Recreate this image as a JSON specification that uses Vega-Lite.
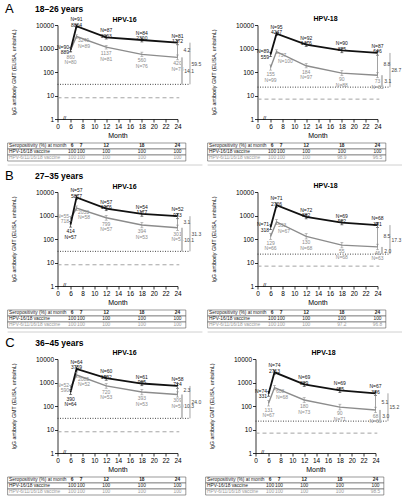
{
"$schema": "https://vega.github.io/schema/vega-lite/v6.json",
"padding": {"left": 4.5, "top": 2, "right": 0, "bottom": 0},
"spacing": 3,
"config": {
  "font": "Liberation Sans",
  "view": {"stroke": null},
  "axis": {"grid": false, "domainColor": "#000", "tickColor": "#000", "labelColor": "#000", "titleColor": "#000", "labelFontSize": 6.5, "titleFontSize": 7, "titleFontWeight": "normal", "tickSize": 3, "domainWidth": 0.8, "tickWidth": 0.8, "labelPadding": 1},
  "title": {"fontSize": 7, "fontWeight": "bold", "color": "#000"},
  "text": {"font": "Liberation Sans"}
},
"datasets": {
  "gmt": [
    {"p":"A16","v":"g","m":6,"g":860,"lo":690,"hi":1070,"n":80},
    {"p":"A16","v":"g","m":7,"g":3240,"lo":2730,"hi":3840,"n":89},
    {"p":"A16","v":"g","m":12,"g":1137,"lo":950,"hi":1360,"n":81},
    {"p":"A16","v":"g","m":18,"g":560,"lo":450,"hi":700,"n":76},
    {"p":"A16","v":"g","m":24,"g":420,"lo":330,"hi":530,"n":73},
    {"p":"A16","v":"c","m":6,"g":889,"lo":740,"hi":1070,"n":90},
    {"p":"A16","v":"c","m":7,"g":8864,"lo":7720,"hi":10180,"n":91},
    {"p":"A16","v":"c","m":12,"g":3003,"lo":2530,"hi":3560,"n":87},
    {"p":"A16","v":"c","m":18,"g":2300,"lo":1900,"hi":2780,"n":84},
    {"p":"A16","v":"c","m":24,"g":1772,"lo":1440,"hi":2180,"n":81},
    {"p":"A18","v":"g","m":6,"g":155,"lo":120,"hi":200,"n":99},
    {"p":"A18","v":"g","m":7,"g":737,"lo":620,"hi":880,"n":100},
    {"p":"A18","v":"g","m":12,"g":184,"lo":150,"hi":230,"n":97},
    {"p":"A18","v":"g","m":18,"g":90,"lo":70,"hi":115,"n":88},
    {"p":"A18","v":"g","m":24,"g":73,"lo":57,"hi":93,"n":85},
    {"p":"A18","v":"c","m":6,"g":559,"lo":450,"hi":690,"n":89},
    {"p":"A18","v":"c","m":7,"g":4247,"lo":3570,"hi":5050,"n":95},
    {"p":"A18","v":"c","m":12,"g":1476,"lo":1230,"hi":1770,"n":92},
    {"p":"A18","v":"c","m":18,"g":825,"lo":660,"hi":1030,"n":90},
    {"p":"A18","v":"c","m":24,"g":646,"lo":520,"hi":800,"n":87},
    {"p":"B16","v":"g","m":6,"g":718,"lo":560,"hi":920,"n":55},
    {"p":"B16","v":"g","m":7,"g":2053,"lo":1650,"hi":2560,"n":58},
    {"p":"B16","v":"g","m":12,"g":799,"lo":630,"hi":1010,"n":57},
    {"p":"B16","v":"g","m":18,"g":394,"lo":300,"hi":510,"n":53},
    {"p":"B16","v":"g","m":24,"g":301,"lo":230,"hi":390,"n":51},
    {"p":"B16","v":"c","m":6,"g":414,"lo":320,"hi":540,"n":57},
    {"p":"B16","v":"c","m":7,"g":5877,"lo":4800,"hi":7200,"n":57},
    {"p":"B16","v":"c","m":12,"g":1976,"lo":1600,"hi":2440,"n":57},
    {"p":"B16","v":"c","m":18,"g":1177,"lo":930,"hi":1490,"n":54},
    {"p":"B16","v":"c","m":24,"g":933,"lo":730,"hi":1190,"n":52},
    {"p":"B18","v":"g","m":6,"g":129,"lo":95,"hi":175,"n":66},
    {"p":"B18","v":"g","m":7,"g":533,"lo":420,"hi":680,"n":67},
    {"p":"B18","v":"g","m":12,"g":130,"lo":100,"hi":170,"n":68},
    {"p":"B18","v":"g","m":18,"g":55,"lo":42,"hi":72,"n":68},
    {"p":"B18","v":"g","m":24,"g":46,"lo":35,"hi":60,"n":63},
    {"p":"B18","v":"c","m":6,"g":318,"lo":250,"hi":400,"n":71},
    {"p":"B18","v":"c","m":7,"g":2726,"lo":2250,"hi":3300,"n":71},
    {"p":"B18","v":"c","m":12,"g":882,"lo":720,"hi":1080,"n":72},
    {"p":"B18","v":"c","m":18,"g":502,"lo":400,"hi":630,"n":69},
    {"p":"B18","v":"c","m":24,"g":391,"lo":310,"hi":490,"n":68},
    {"p":"C16","v":"g","m":6,"g":590,"lo":460,"hi":760,"n":52},
    {"p":"C16","v":"g","m":7,"g":2085,"lo":1680,"hi":2590,"n":52},
    {"p":"C16","v":"g","m":12,"g":720,"lo":570,"hi":910,"n":53},
    {"p":"C16","v":"g","m":18,"g":393,"lo":300,"hi":510,"n":53},
    {"p":"C16","v":"g","m":24,"g":309,"lo":240,"hi":400,"n":50},
    {"p":"C16","v":"c","m":6,"g":390,"lo":310,"hi":490,"n":64},
    {"p":"C16","v":"c","m":7,"g":3759,"lo":3100,"hi":4560,"n":64},
    {"p":"C16","v":"c","m":12,"g":1532,"lo":1250,"hi":1880,"n":60},
    {"p":"C16","v":"c","m":18,"g":905,"lo":730,"hi":1120,"n":61},
    {"p":"C16","v":"c","m":24,"g":714,"lo":570,"hi":890,"n":58},
    {"p":"C18","v":"g","m":6,"g":131,"lo":100,"hi":172,"n":67},
    {"p":"C18","v":"g","m":7,"g":608,"lo":490,"hi":755,"n":68},
    {"p":"C18","v":"g","m":12,"g":180,"lo":140,"hi":230,"n":73},
    {"p":"C18","v":"g","m":18,"g":90,"lo":68,"hi":119,"n":71},
    {"p":"C18","v":"g","m":24,"g":68,"lo":52,"hi":89,"n":66},
    {"p":"C18","v":"c","m":6,"g":331,"lo":260,"hi":420,"n":74},
    {"p":"C18","v":"c","m":7,"g":2713,"lo":2250,"hi":3270,"n":74},
    {"p":"C18","v":"c","m":12,"g":829,"lo":680,"hi":1010,"n":69},
    {"p":"C18","v":"c","m":18,"g":465,"lo":370,"hi":585,"n":69},
    {"p":"C18","v":"c","m":24,"g":346,"lo":275,"hi":435,"n":67}
  ],
  "cut": [
    {"p":"A16","k":"dot","y":29.8},{"p":"A16","k":"dash","y":8},
    {"p":"A18","k":"dot","y":22.7},{"p":"A18","k":"dash","y":7},
    {"p":"B16","k":"dot","y":29.8},{"p":"B16","k":"dash","y":8},
    {"p":"B18","k":"dot","y":22.7},{"p":"B18","k":"dash","y":7},
    {"p":"C16","k":"dot","y":29.8},{"p":"C16","k":"dash","y":8},
    {"p":"C18","k":"dot","y":22.7},{"p":"C18","k":"dash","y":7}
  ],
  "br": [
    {"p":"A16","k":"b1","top":1772,"bot":420,"t":"4.2"},
    {"p":"A16","k":"b2","top":420,"bot":29.8,"t":"14.1"},
    {"p":"A16","k":"b3","top":1772,"bot":29.8,"t":"59.5"},
    {"p":"A18","k":"b1","top":646,"bot":73,"t":"8.8"},
    {"p":"A18","k":"b2","top":73,"bot":22.7,"t":"3.1"},
    {"p":"A18","k":"b3","top":646,"bot":22.7,"t":"28.7"},
    {"p":"B16","k":"b1","top":933,"bot":301,"t":"3.1"},
    {"p":"B16","k":"b2","top":301,"bot":29.8,"t":"10.1"},
    {"p":"B16","k":"b3","top":933,"bot":29.8,"t":"31.3"},
    {"p":"B18","k":"b1","top":391,"bot":46,"t":"8.5"},
    {"p":"B18","k":"b2","top":46,"bot":22.7,"t":"2.0"},
    {"p":"B18","k":"b3","top":391,"bot":22.7,"t":"17.3"},
    {"p":"C16","k":"b1","top":714,"bot":309,"t":"2.3"},
    {"p":"C16","k":"b2","top":309,"bot":29.8,"t":"10.3"},
    {"p":"C16","k":"b3","top":714,"bot":29.8,"t":"24.0"},
    {"p":"C18","k":"b1","top":346,"bot":68,"t":"5.1"},
    {"p":"C18","k":"b2","top":68,"bot":22.7,"t":"3.0"},
    {"p":"C18","k":"b3","top":346,"bot":22.7,"t":"15.2"}
  ],
  "rows": [
    {"r":0,"lab":"Seropositivity (%) at month"},
    {"r":1,"lab":"HPV-16/18 vaccine"},
    {"r":2,"lab":"HPV-6/11/16/18 vaccine"}
  ],
  "hdr": [
    {"r":0,"m":6,"t":"6"},{"r":0,"m":7,"t":"7"},{"r":0,"m":12,"t":"12"},{"r":0,"m":18,"t":"18"},{"r":0,"m":24,"t":"24"}
  ],
  "sep": [{"s": 1}],
  "sero": [
    {"p":"A16","r":1,"m":6,"t":"100"},{"p":"A16","r":1,"m":7,"t":"100"},{"p":"A16","r":1,"m":12,"t":"100"},{"p":"A16","r":1,"m":18,"t":"100"},{"p":"A16","r":1,"m":24,"t":"100"},
    {"p":"A16","r":2,"m":6,"t":"100"},{"p":"A16","r":2,"m":7,"t":"100"},{"p":"A16","r":2,"m":12,"t":"100"},{"p":"A16","r":2,"m":18,"t":"100"},{"p":"A16","r":2,"m":24,"t":"100"},
    {"p":"A18","r":1,"m":6,"t":"100"},{"p":"A18","r":1,"m":7,"t":"100"},{"p":"A18","r":1,"m":12,"t":"100"},{"p":"A18","r":1,"m":18,"t":"100"},{"p":"A18","r":1,"m":24,"t":"100"},
    {"p":"A18","r":2,"m":6,"t":"100"},{"p":"A18","r":2,"m":7,"t":"100"},{"p":"A18","r":2,"m":12,"t":"100"},{"p":"A18","r":2,"m":18,"t":"98.9"},{"p":"A18","r":2,"m":24,"t":"96.5"},
    {"p":"B16","r":1,"m":6,"t":"100"},{"p":"B16","r":1,"m":7,"t":"100"},{"p":"B16","r":1,"m":12,"t":"100"},{"p":"B16","r":1,"m":18,"t":"100"},{"p":"B16","r":1,"m":24,"t":"100"},
    {"p":"B16","r":2,"m":6,"t":"100"},{"p":"B16","r":2,"m":7,"t":"100"},{"p":"B16","r":2,"m":12,"t":"100"},{"p":"B16","r":2,"m":18,"t":"100"},{"p":"B16","r":2,"m":24,"t":"100"},
    {"p":"B18","r":1,"m":6,"t":"100"},{"p":"B18","r":1,"m":7,"t":"100"},{"p":"B18","r":1,"m":12,"t":"100"},{"p":"B18","r":1,"m":18,"t":"100"},{"p":"B18","r":1,"m":24,"t":"100"},
    {"p":"B18","r":2,"m":6,"t":"100"},{"p":"B18","r":2,"m":7,"t":"100"},{"p":"B18","r":2,"m":12,"t":"100"},{"p":"B18","r":2,"m":18,"t":"97.2"},{"p":"B18","r":2,"m":24,"t":"96.8"},
    {"p":"C16","r":1,"m":6,"t":"100"},{"p":"C16","r":1,"m":7,"t":"100"},{"p":"C16","r":1,"m":12,"t":"100"},{"p":"C16","r":1,"m":18,"t":"100"},{"p":"C16","r":1,"m":24,"t":"100"},
    {"p":"C16","r":2,"m":6,"t":"100"},{"p":"C16","r":2,"m":7,"t":"100"},{"p":"C16","r":2,"m":12,"t":"100"},{"p":"C16","r":2,"m":18,"t":"100"},{"p":"C16","r":2,"m":24,"t":"100"},
    {"p":"C18","r":1,"m":6,"t":"100"},{"p":"C18","r":1,"m":7,"t":"100"},{"p":"C18","r":1,"m":12,"t":"100"},{"p":"C18","r":1,"m":18,"t":"100"},{"p":"C18","r":1,"m":24,"t":"100"},
    {"p":"C18","r":2,"m":6,"t":"100"},{"p":"C18","r":2,"m":7,"t":"100"},{"p":"C18","r":2,"m":12,"t":"100"},{"p":"C18","r":2,"m":18,"t":"100"},{"p":"C18","r":2,"m":24,"t":"98.5"}
  ]
},
"vconcat": [
{"title": {"text": "A", "anchor": "start", "frame": "bounds", "fontSize": 13, "fontWeight": "normal", "offset": -11, "dx": -2},
 "vconcat": [{
  "title": {"text": "18–26 years", "anchor": "start", "frame": "bounds", "fontSize": 8.5, "fontWeight": "bold", "dx": 28, "offset": 2},
  "spacing": 3,
  "hconcat": [
    {"spacing": 3, "vconcat": [
      {"width": 120, "height": 94, "title": {"text": "HPV-16", "frame": "group", "offset": -5.8, "dx": 7},
       "layer": [
        {"data": {"name": "cut"}, "transform": [{"filter": "datum.p == 'A16' && datum.k == 'dash'"}], "mark": {"type": "rule", "strokeDash": [4, 3], "color": "#9a9a9a", "strokeWidth": 0.9}, "encoding": {"x": {"datum": 3.8, "type": "quantitative"}, "x2": {"datum": 24.3}, "y": {"field": "y", "type": "quantitative", "scale": {"type": "log"}}}},
        {"data": {"name": "cut"}, "transform": [{"filter": "datum.p == 'A16' && datum.k == 'dot'"}], "mark": {"type": "rule", "strokeDash": [1, 1.5], "color": "#333", "strokeWidth": 0.9}, "encoding": {"x": {"datum": 3.8, "type": "quantitative"}, "x2": {"datum": 26.1}, "y": {"field": "y", "type": "quantitative", "scale": {"type": "log"}}}},
        {"data": {"name": "gmt"}, "transform": [{"filter": "datum.p == 'A16'"}, {"joinaggregate": [{"op": "max", "field": "g", "as": "mx"}], "groupby": ["m"]}, {"calculate": "'N=' + datum.n + '\\n' + datum.g", "as": "la"}, {"calculate": "datum.g + '\\nN=' + datum.n", "as": "lb"}],
         "layer": [
          {"transform": [{"filter": "datum.v == 'g'"}], "mark": {"type": "line", "strokeWidth": 1.4, "color": "#8c8c8c"},
           "encoding": {"x": {"field": "m", "type": "quantitative", "title": "Month", "scale": {"domain": [3.8, 24], "nice": false, "zero": false}, "axis": {"values": [3.8, 6, 8, 10, 12, 14, 16, 18, 20, 22, 24], "tickCount": 30, "format": "d", "labelExpr": "datum.value < 5 ? '0' : datum.label", "labelFlush": false, "labelOverlap": false, "titlePadding": 2, "labelColor": "#000", "titleColor": "#000"}},
                        "y": {"field": "g", "type": "quantitative", "title": "IgG antibody GMT (ELISA, units/mL)", "scale": {"type": "log", "domain": [1, 10000], "nice": false}, "axis": {"values": [1, 10, 100, 1000, 10000], "tickCount": 10, "format": "d", "labelFlush": false, "titlePadding": 19, "titleFontSize": 5.3, "labelColor": "#000", "titleColor": "#000"}}}},
          {"transform": [{"filter": "datum.v == 'c'"}], "mark": {"type": "line", "strokeWidth": 1.8, "color": "#111"}, "encoding": {"x": {"field": "m", "type": "quantitative"}, "y": {"field": "g", "type": "quantitative", "scale": {"type": "log"}}}},
          {"mark": {"type": "rule", "strokeWidth": 0.7}, "encoding": {"x": {"field": "m", "type": "quantitative"}, "y": {"field": "lo", "type": "quantitative", "scale": {"type": "log"}}, "y2": {"field": "hi"}, "color": {"field": "v", "type": "nominal", "scale": {"domain": ["c", "g"], "range": ["#111111", "#8c8c8c"]}, "legend": null}}},
          {"transform": [{"fold": ["lo", "hi"], "as": ["kk", "e"]}], "mark": {"type": "tick", "orient": "horizontal", "size": 3, "thickness": 0.7}, "encoding": {"x": {"field": "m", "type": "quantitative"}, "y": {"field": "e", "type": "quantitative", "scale": {"type": "log"}}, "color": {"field": "v", "type": "nominal", "scale": {"domain": ["c", "g"], "range": ["#111111", "#8c8c8c"]}, "legend": null}}},
          {"transform": [{"filter": "datum.v == 'c' && datum.m >= 7"}], "mark": {"type": "text", "fontSize": 5, "lineHeight": 5.5, "lineBreak": "\n", "baseline": "bottom", "dy": -4}, "encoding": {"x": {"field": "m", "type": "quantitative"}, "y": {"field": "g", "type": "quantitative", "scale": {"type": "log"}}, "text": {"field": "la"}, "color": {"field": "v", "type": "nominal", "scale": {"domain": ["c", "g"], "range": ["#111111", "#8c8c8c"]}, "legend": null}}},
          {"transform": [{"filter": "datum.v == 'g' && datum.m >= 12"}], "mark": {"type": "text", "fontSize": 5, "lineHeight": 5.5, "lineBreak": "\n", "baseline": "top", "dy": 4}, "encoding": {"x": {"field": "m", "type": "quantitative"}, "y": {"field": "g", "type": "quantitative", "scale": {"type": "log"}}, "text": {"field": "lb"}, "color": {"field": "v", "type": "nominal", "scale": {"domain": ["c", "g"], "range": ["#111111", "#8c8c8c"]}, "legend": null}}},
          {"transform": [{"filter": "datum.v == 'g' && datum.m == 7"}], "mark": {"type": "text", "fontSize": 5, "lineHeight": 5.5, "lineBreak": "\n", "baseline": "top", "align": "left", "dx": 1.5, "dy": 1.5}, "encoding": {"x": {"field": "m", "type": "quantitative"}, "y": {"field": "g", "type": "quantitative", "scale": {"type": "log"}}, "text": {"field": "lb"}, "color": {"field": "v", "type": "nominal", "scale": {"domain": ["c", "g"], "range": ["#111111", "#8c8c8c"]}, "legend": null}}},
          {"transform": [{"filter": "datum.m == 6 && datum.g == datum.mx"}], "mark": {"type": "text", "fontSize": 5, "lineHeight": 5.5, "lineBreak": "\n", "baseline": "bottom", "align": "right", "dx": -1.5}, "encoding": {"x": {"field": "m", "type": "quantitative"}, "y": {"field": "g", "type": "quantitative", "scale": {"type": "log"}}, "text": {"field": "la"}, "color": {"field": "v", "type": "nominal", "scale": {"domain": ["c", "g"], "range": ["#111111", "#8c8c8c"]}, "legend": null}}},
          {"transform": [{"filter": "datum.m == 6 && datum.g < datum.mx"}], "mark": {"type": "text", "fontSize": 5, "lineHeight": 5.5, "lineBreak": "\n", "baseline": "top", "dy": 4.5}, "encoding": {"x": {"field": "m", "type": "quantitative"}, "y": {"field": "g", "type": "quantitative", "scale": {"type": "log"}}, "text": {"field": "lb"}, "color": {"field": "v", "type": "nominal", "scale": {"domain": ["c", "g"], "range": ["#111111", "#8c8c8c"]}, "legend": null}}}
         ]},
        {"data": {"name": "br"}, "transform": [{"filter": "datum.p == 'A16'"}, {"calculate": "sqrt(datum.top * datum.bot)", "as": "ym"}],
         "layer": [
          {"transform": [{"filter": "datum.k == 'b1'"}], "mark": {"type": "rule", "color": "#8a8a8a", "strokeWidth": 0.8}, "encoding": {"x": {"datum": 24, "type": "quantitative"}, "y": {"field": "top", "type": "quantitative", "scale": {"type": "log"}}, "y2": {"field": "bot"}}},
          {"transform": [{"filter": "datum.k == 'b2'"}], "mark": {"type": "rule", "color": "#c0c0c0", "strokeWidth": 2}, "encoding": {"x": {"datum": 24.75, "type": "quantitative"}, "y": {"field": "top", "type": "quantitative", "scale": {"type": "log"}}, "y2": {"field": "bot"}}},
          {"transform": [{"filter": "datum.k == 'b3'"}], "mark": {"type": "rule", "color": "#666", "strokeWidth": 0.6}, "encoding": {"x": {"datum": 26.1, "type": "quantitative"}, "y": {"field": "top", "type": "quantitative", "scale": {"type": "log"}}, "y2": {"field": "bot"}}},
          {"transform": [{"filter": "datum.k == 'b1'"}], "mark": {"type": "text", "align": "left", "fontSize": 5, "color": "#444"}, "encoding": {"x": {"datum": 25.0, "type": "quantitative"}, "y": {"field": "ym", "type": "quantitative", "scale": {"type": "log"}}, "text": {"field": "t"}}},
          {"transform": [{"filter": "datum.k == 'b2'"}], "mark": {"type": "text", "align": "left", "fontSize": 5, "color": "#444"}, "encoding": {"x": {"datum": 25.15, "type": "quantitative"}, "y": {"field": "ym", "type": "quantitative", "scale": {"type": "log"}}, "text": {"field": "t"}}},
          {"transform": [{"filter": "datum.k == 'b3'"}], "mark": {"type": "text", "align": "left", "fontSize": 5, "color": "#444"}, "encoding": {"x": {"datum": 26.35, "type": "quantitative"}, "y": {"field": "ym", "type": "quantitative", "scale": {"type": "log"}}, "text": {"field": "t"}}}
         ]},
        {"data": {"values": [{"t": "//"}]}, "mark": {"type": "text", "fontSize": 6, "color": "#000"}, "encoding": {"x": {"datum": 5.0, "type": "quantitative"}, "y": {"datum": 1.1, "type": "quantitative"}, "text": {"field": "t"}}}
       ]},
      {"width": 120, "height": 18,
       "layer": [
        {"data": {"name": "rows"}, "mark": {"type": "rect", "fill": "#fff", "stroke": "#555", "strokeWidth": 0.6}, "encoding": {"x": {"datum": -4.6, "type": "quantitative", "scale": {"domain": [3.8, 24], "nice": false, "zero": false}, "axis": null}, "x2": {"datum": 25.4}, "y": {"field": "r", "type": "ordinal", "scale": {"type": "band", "domain": [0, 1, 2], "paddingInner": 0, "paddingOuter": 0}, "axis": null}}},
        {"data": {"name": "sep"}, "mark": {"type": "rule", "color": "#d0d0d0", "strokeWidth": 1, "yOffset": 4}, "encoding": {"x": {"datum": -4.6, "type": "quantitative"}, "x2": {"datum": 28.2}, "y": {"datum": 2, "type": "ordinal", "bandPosition": 1}}},
        {"data": {"name": "rows"}, "mark": {"type": "text", "align": "left", "fontSize": 4.8, "dx": 1.5}, "encoding": {"x": {"datum": -4.6, "type": "quantitative"}, "y": {"field": "r", "type": "ordinal"}, "text": {"field": "lab"}, "color": {"condition": {"test": "datum.r == 2", "value": "#9a9a9a"}, "value": "#222"}}},
        {"data": {"name": "hdr"}, "transform": [{"filter": "datum.m == 6"}], "mark": {"type": "text", "fontSize": 4.8, "fontWeight": "bold", "dx": 1.5, "color": "#222"}, "encoding": {"x": {"field": "m", "type": "quantitative"}, "y": {"field": "r", "type": "ordinal"}, "text": {"field": "t"}}},
        {"data": {"name": "hdr"}, "transform": [{"filter": "datum.m == 7"}], "mark": {"type": "text", "fontSize": 4.8, "fontWeight": "bold", "dx": 4.5, "color": "#222"}, "encoding": {"x": {"field": "m", "type": "quantitative"}, "y": {"field": "r", "type": "ordinal"}, "text": {"field": "t"}}},
        {"data": {"name": "hdr"}, "transform": [{"filter": "datum.m >= 12"}], "mark": {"type": "text", "fontSize": 4.8, "fontWeight": "bold", "color": "#222"}, "encoding": {"x": {"field": "m", "type": "quantitative"}, "y": {"field": "r", "type": "ordinal"}, "text": {"field": "t"}}},
        {"data": {"name": "sero"}, "transform": [{"filter": "datum.p == 'A16' && datum.m == 6"}], "mark": {"type": "text", "fontSize": 4.8, "dx": 1.5}, "encoding": {"x": {"field": "m", "type": "quantitative"}, "y": {"field": "r", "type": "ordinal"}, "text": {"field": "t"}, "color": {"condition": {"test": "datum.r == 2", "value": "#9a9a9a"}, "value": "#222"}}},
        {"data": {"name": "sero"}, "transform": [{"filter": "datum.p == 'A16' && datum.m == 7"}], "mark": {"type": "text", "fontSize": 4.8, "dx": 4.5}, "encoding": {"x": {"field": "m", "type": "quantitative"}, "y": {"field": "r", "type": "ordinal"}, "text": {"field": "t"}, "color": {"condition": {"test": "datum.r == 2", "value": "#9a9a9a"}, "value": "#222"}}},
        {"data": {"name": "sero"}, "transform": [{"filter": "datum.p == 'A16' && datum.m >= 12"}], "mark": {"type": "text", "fontSize": 4.8}, "encoding": {"x": {"field": "m", "type": "quantitative"}, "y": {"field": "r", "type": "ordinal"}, "text": {"field": "t"}, "color": {"condition": {"test": "datum.r == 2", "value": "#9a9a9a"}, "value": "#222"}}}
       ]}
    ]},
    {"spacing": 3, "vconcat": [
      {"width": 120, "height": 94, "title": {"text": "HPV-18", "frame": "group", "offset": 0, "dx": 8},
       "layer": [
        {"data": {"name": "cut"}, "transform": [{"filter": "datum.p == 'A18' && datum.k == 'dash'"}], "mark": {"type": "rule", "strokeDash": [4, 3], "color": "#9a9a9a", "strokeWidth": 0.9}, "encoding": {"x": {"datum": 3.8, "type": "quantitative"}, "x2": {"datum": 24.3}, "y": {"field": "y", "type": "quantitative", "scale": {"type": "log"}}}},
        {"data": {"name": "cut"}, "transform": [{"filter": "datum.p == 'A18' && datum.k == 'dot'"}], "mark": {"type": "rule", "strokeDash": [1, 1.5], "color": "#333", "strokeWidth": 0.9}, "encoding": {"x": {"datum": 3.8, "type": "quantitative"}, "x2": {"datum": 26.1}, "y": {"field": "y", "type": "quantitative", "scale": {"type": "log"}}}},
        {"data": {"name": "gmt"}, "transform": [{"filter": "datum.p == 'A18'"}, {"joinaggregate": [{"op": "max", "field": "g", "as": "mx"}], "groupby": ["m"]}, {"calculate": "'N=' + datum.n + '\\n' + datum.g", "as": "la"}, {"calculate": "datum.g + '\\nN=' + datum.n", "as": "lb"}],
         "layer": [
          {"transform": [{"filter": "datum.v == 'g'"}], "mark": {"type": "line", "strokeWidth": 1.4, "color": "#8c8c8c"},
           "encoding": {"x": {"field": "m", "type": "quantitative", "title": "Month", "scale": {"domain": [3.8, 24], "nice": false, "zero": false}, "axis": {"values": [3.8, 6, 8, 10, 12, 14, 16, 18, 20, 22, 24], "tickCount": 30, "format": "d", "labelExpr": "datum.value < 5 ? '0' : datum.label", "labelFlush": false, "labelOverlap": false, "titlePadding": 2, "labelColor": "#000", "titleColor": "#000"}},
                        "y": {"field": "g", "type": "quantitative", "title": "IgG antibody GMT (ELISA, units/mL)", "scale": {"type": "log", "domain": [1, 10000], "nice": false}, "axis": {"values": [1, 10, 100, 1000, 10000], "tickCount": 10, "format": "d", "labelFlush": false, "titlePadding": 19, "titleFontSize": 5.3, "labelColor": "#000", "titleColor": "#000"}}}},
          {"transform": [{"filter": "datum.v == 'c'"}], "mark": {"type": "line", "strokeWidth": 1.8, "color": "#111"}, "encoding": {"x": {"field": "m", "type": "quantitative"}, "y": {"field": "g", "type": "quantitative", "scale": {"type": "log"}}}},
          {"mark": {"type": "rule", "strokeWidth": 0.7}, "encoding": {"x": {"field": "m", "type": "quantitative"}, "y": {"field": "lo", "type": "quantitative", "scale": {"type": "log"}}, "y2": {"field": "hi"}, "color": {"field": "v", "type": "nominal", "scale": {"domain": ["c", "g"], "range": ["#111111", "#8c8c8c"]}, "legend": null}}},
          {"transform": [{"fold": ["lo", "hi"], "as": ["kk", "e"]}], "mark": {"type": "tick", "orient": "horizontal", "size": 3, "thickness": 0.7}, "encoding": {"x": {"field": "m", "type": "quantitative"}, "y": {"field": "e", "type": "quantitative", "scale": {"type": "log"}}, "color": {"field": "v", "type": "nominal", "scale": {"domain": ["c", "g"], "range": ["#111111", "#8c8c8c"]}, "legend": null}}},
          {"transform": [{"filter": "datum.v == 'c' && datum.m >= 7"}], "mark": {"type": "text", "fontSize": 5, "lineHeight": 5.5, "lineBreak": "\n", "baseline": "bottom", "dy": -4}, "encoding": {"x": {"field": "m", "type": "quantitative"}, "y": {"field": "g", "type": "quantitative", "scale": {"type": "log"}}, "text": {"field": "la"}, "color": {"field": "v", "type": "nominal", "scale": {"domain": ["c", "g"], "range": ["#111111", "#8c8c8c"]}, "legend": null}}},
          {"transform": [{"filter": "datum.v == 'g' && datum.m >= 12"}], "mark": {"type": "text", "fontSize": 5, "lineHeight": 5.5, "lineBreak": "\n", "baseline": "top", "dy": 4}, "encoding": {"x": {"field": "m", "type": "quantitative"}, "y": {"field": "g", "type": "quantitative", "scale": {"type": "log"}}, "text": {"field": "lb"}, "color": {"field": "v", "type": "nominal", "scale": {"domain": ["c", "g"], "range": ["#111111", "#8c8c8c"]}, "legend": null}}},
          {"transform": [{"filter": "datum.v == 'g' && datum.m == 7"}], "mark": {"type": "text", "fontSize": 5, "lineHeight": 5.5, "lineBreak": "\n", "baseline": "top", "align": "left", "dx": 1.5, "dy": 1.5}, "encoding": {"x": {"field": "m", "type": "quantitative"}, "y": {"field": "g", "type": "quantitative", "scale": {"type": "log"}}, "text": {"field": "lb"}, "color": {"field": "v", "type": "nominal", "scale": {"domain": ["c", "g"], "range": ["#111111", "#8c8c8c"]}, "legend": null}}},
          {"transform": [{"filter": "datum.m == 6 && datum.g == datum.mx"}], "mark": {"type": "text", "fontSize": 5, "lineHeight": 5.5, "lineBreak": "\n", "baseline": "bottom", "align": "right", "dx": -1.5}, "encoding": {"x": {"field": "m", "type": "quantitative"}, "y": {"field": "g", "type": "quantitative", "scale": {"type": "log"}}, "text": {"field": "la"}, "color": {"field": "v", "type": "nominal", "scale": {"domain": ["c", "g"], "range": ["#111111", "#8c8c8c"]}, "legend": null}}},
          {"transform": [{"filter": "datum.m == 6 && datum.g < datum.mx"}], "mark": {"type": "text", "fontSize": 5, "lineHeight": 5.5, "lineBreak": "\n", "baseline": "top", "dy": 4.5}, "encoding": {"x": {"field": "m", "type": "quantitative"}, "y": {"field": "g", "type": "quantitative", "scale": {"type": "log"}}, "text": {"field": "lb"}, "color": {"field": "v", "type": "nominal", "scale": {"domain": ["c", "g"], "range": ["#111111", "#8c8c8c"]}, "legend": null}}}
         ]},
        {"data": {"name": "br"}, "transform": [{"filter": "datum.p == 'A18'"}, {"calculate": "sqrt(datum.top * datum.bot)", "as": "ym"}],
         "layer": [
          {"transform": [{"filter": "datum.k == 'b1'"}], "mark": {"type": "rule", "color": "#8a8a8a", "strokeWidth": 0.8}, "encoding": {"x": {"datum": 24, "type": "quantitative"}, "y": {"field": "top", "type": "quantitative", "scale": {"type": "log"}}, "y2": {"field": "bot"}}},
          {"transform": [{"filter": "datum.k == 'b2'"}], "mark": {"type": "rule", "color": "#c0c0c0", "strokeWidth": 2}, "encoding": {"x": {"datum": 24.75, "type": "quantitative"}, "y": {"field": "top", "type": "quantitative", "scale": {"type": "log"}}, "y2": {"field": "bot"}}},
          {"transform": [{"filter": "datum.k == 'b3'"}], "mark": {"type": "rule", "color": "#666", "strokeWidth": 0.6}, "encoding": {"x": {"datum": 26.1, "type": "quantitative"}, "y": {"field": "top", "type": "quantitative", "scale": {"type": "log"}}, "y2": {"field": "bot"}}},
          {"transform": [{"filter": "datum.k == 'b1'"}], "mark": {"type": "text", "align": "left", "fontSize": 5, "color": "#444"}, "encoding": {"x": {"datum": 25.0, "type": "quantitative"}, "y": {"field": "ym", "type": "quantitative", "scale": {"type": "log"}}, "text": {"field": "t"}}},
          {"transform": [{"filter": "datum.k == 'b2'"}], "mark": {"type": "text", "align": "left", "fontSize": 5, "color": "#444"}, "encoding": {"x": {"datum": 25.15, "type": "quantitative"}, "y": {"field": "ym", "type": "quantitative", "scale": {"type": "log"}}, "text": {"field": "t"}}},
          {"transform": [{"filter": "datum.k == 'b3'"}], "mark": {"type": "text", "align": "left", "fontSize": 5, "color": "#444"}, "encoding": {"x": {"datum": 26.35, "type": "quantitative"}, "y": {"field": "ym", "type": "quantitative", "scale": {"type": "log"}}, "text": {"field": "t"}}}
         ]},
        {"data": {"values": [{"t": "//"}]}, "mark": {"type": "text", "fontSize": 6, "color": "#000"}, "encoding": {"x": {"datum": 5.0, "type": "quantitative"}, "y": {"datum": 1.1, "type": "quantitative"}, "text": {"field": "t"}}}
       ]},
      {"width": 120, "height": 18,
       "layer": [
        {"data": {"name": "rows"}, "mark": {"type": "rect", "fill": "#fff", "stroke": "#555", "strokeWidth": 0.6}, "encoding": {"x": {"datum": -4.6, "type": "quantitative", "scale": {"domain": [3.8, 24], "nice": false, "zero": false}, "axis": null}, "x2": {"datum": 25.4}, "y": {"field": "r", "type": "ordinal", "scale": {"type": "band", "domain": [0, 1, 2], "paddingInner": 0, "paddingOuter": 0}, "axis": null}}},
        {"data": {"name": "sep"}, "mark": {"type": "rule", "color": "#d0d0d0", "strokeWidth": 1, "yOffset": 4}, "encoding": {"x": {"datum": -4.6, "type": "quantitative"}, "x2": {"datum": 28.2}, "y": {"datum": 2, "type": "ordinal", "bandPosition": 1}}},
        {"data": {"name": "rows"}, "mark": {"type": "text", "align": "left", "fontSize": 4.8, "dx": 1.5}, "encoding": {"x": {"datum": -4.6, "type": "quantitative"}, "y": {"field": "r", "type": "ordinal"}, "text": {"field": "lab"}, "color": {"condition": {"test": "datum.r == 2", "value": "#9a9a9a"}, "value": "#222"}}},
        {"data": {"name": "hdr"}, "transform": [{"filter": "datum.m == 6"}], "mark": {"type": "text", "fontSize": 4.8, "fontWeight": "bold", "dx": 1.5, "color": "#222"}, "encoding": {"x": {"field": "m", "type": "quantitative"}, "y": {"field": "r", "type": "ordinal"}, "text": {"field": "t"}}},
        {"data": {"name": "hdr"}, "transform": [{"filter": "datum.m == 7"}], "mark": {"type": "text", "fontSize": 4.8, "fontWeight": "bold", "dx": 4.5, "color": "#222"}, "encoding": {"x": {"field": "m", "type": "quantitative"}, "y": {"field": "r", "type": "ordinal"}, "text": {"field": "t"}}},
        {"data": {"name": "hdr"}, "transform": [{"filter": "datum.m >= 12"}], "mark": {"type": "text", "fontSize": 4.8, "fontWeight": "bold", "color": "#222"}, "encoding": {"x": {"field": "m", "type": "quantitative"}, "y": {"field": "r", "type": "ordinal"}, "text": {"field": "t"}}},
        {"data": {"name": "sero"}, "transform": [{"filter": "datum.p == 'A18' && datum.m == 6"}], "mark": {"type": "text", "fontSize": 4.8, "dx": 1.5}, "encoding": {"x": {"field": "m", "type": "quantitative"}, "y": {"field": "r", "type": "ordinal"}, "text": {"field": "t"}, "color": {"condition": {"test": "datum.r == 2", "value": "#9a9a9a"}, "value": "#222"}}},
        {"data": {"name": "sero"}, "transform": [{"filter": "datum.p == 'A18' && datum.m == 7"}], "mark": {"type": "text", "fontSize": 4.8, "dx": 4.5}, "encoding": {"x": {"field": "m", "type": "quantitative"}, "y": {"field": "r", "type": "ordinal"}, "text": {"field": "t"}, "color": {"condition": {"test": "datum.r == 2", "value": "#9a9a9a"}, "value": "#222"}}},
        {"data": {"name": "sero"}, "transform": [{"filter": "datum.p == 'A18' && datum.m >= 12"}], "mark": {"type": "text", "fontSize": 4.8}, "encoding": {"x": {"field": "m", "type": "quantitative"}, "y": {"field": "r", "type": "ordinal"}, "text": {"field": "t"}, "color": {"condition": {"test": "datum.r == 2", "value": "#9a9a9a"}, "value": "#222"}}}
       ]}
    ]}
  ]
 }]
},
{"title": {"text": "B", "anchor": "start", "frame": "bounds", "fontSize": 13, "fontWeight": "normal", "offset": -11, "dx": -2},
 "vconcat": [{
  "title": {"text": "27–35 years", "anchor": "start", "frame": "bounds", "fontSize": 8.5, "fontWeight": "bold", "dx": 28, "offset": 2},
  "spacing": 3,
  "hconcat": [
    {"spacing": 3, "vconcat": [
      {"width": 120, "height": 94, "title": {"text": "HPV-16", "frame": "group", "offset": -1.6, "dx": 7},
       "layer": [
        {"data": {"name": "cut"}, "transform": [{"filter": "datum.p == 'B16' && datum.k == 'dash'"}], "mark": {"type": "rule", "strokeDash": [4, 3], "color": "#9a9a9a", "strokeWidth": 0.9}, "encoding": {"x": {"datum": 3.8, "type": "quantitative"}, "x2": {"datum": 24.3}, "y": {"field": "y", "type": "quantitative", "scale": {"type": "log"}}}},
        {"data": {"name": "cut"}, "transform": [{"filter": "datum.p == 'B16' && datum.k == 'dot'"}], "mark": {"type": "rule", "strokeDash": [1, 1.5], "color": "#333", "strokeWidth": 0.9}, "encoding": {"x": {"datum": 3.8, "type": "quantitative"}, "x2": {"datum": 26.1}, "y": {"field": "y", "type": "quantitative", "scale": {"type": "log"}}}},
        {"data": {"name": "gmt"}, "transform": [{"filter": "datum.p == 'B16'"}, {"joinaggregate": [{"op": "max", "field": "g", "as": "mx"}], "groupby": ["m"]}, {"calculate": "'N=' + datum.n + '\\n' + datum.g", "as": "la"}, {"calculate": "datum.g + '\\nN=' + datum.n", "as": "lb"}],
         "layer": [
          {"transform": [{"filter": "datum.v == 'g'"}], "mark": {"type": "line", "strokeWidth": 1.4, "color": "#8c8c8c"},
           "encoding": {"x": {"field": "m", "type": "quantitative", "title": "Month", "scale": {"domain": [3.8, 24], "nice": false, "zero": false}, "axis": {"values": [3.8, 6, 8, 10, 12, 14, 16, 18, 20, 22, 24], "tickCount": 30, "format": "d", "labelExpr": "datum.value < 5 ? '0' : datum.label", "labelFlush": false, "labelOverlap": false, "titlePadding": 2, "labelColor": "#000", "titleColor": "#000"}},
                        "y": {"field": "g", "type": "quantitative", "title": "IgG antibody GMT (ELISA, units/mL)", "scale": {"type": "log", "domain": [1, 10000], "nice": false}, "axis": {"values": [1, 10, 100, 1000, 10000], "tickCount": 10, "format": "d", "labelFlush": false, "titlePadding": 19, "titleFontSize": 5.3, "labelColor": "#000", "titleColor": "#000"}}}},
          {"transform": [{"filter": "datum.v == 'c'"}], "mark": {"type": "line", "strokeWidth": 1.8, "color": "#111"}, "encoding": {"x": {"field": "m", "type": "quantitative"}, "y": {"field": "g", "type": "quantitative", "scale": {"type": "log"}}}},
          {"mark": {"type": "rule", "strokeWidth": 0.7}, "encoding": {"x": {"field": "m", "type": "quantitative"}, "y": {"field": "lo", "type": "quantitative", "scale": {"type": "log"}}, "y2": {"field": "hi"}, "color": {"field": "v", "type": "nominal", "scale": {"domain": ["c", "g"], "range": ["#111111", "#8c8c8c"]}, "legend": null}}},
          {"transform": [{"fold": ["lo", "hi"], "as": ["kk", "e"]}], "mark": {"type": "tick", "orient": "horizontal", "size": 3, "thickness": 0.7}, "encoding": {"x": {"field": "m", "type": "quantitative"}, "y": {"field": "e", "type": "quantitative", "scale": {"type": "log"}}, "color": {"field": "v", "type": "nominal", "scale": {"domain": ["c", "g"], "range": ["#111111", "#8c8c8c"]}, "legend": null}}},
          {"transform": [{"filter": "datum.v == 'c' && datum.m >= 7"}], "mark": {"type": "text", "fontSize": 5, "lineHeight": 5.5, "lineBreak": "\n", "baseline": "bottom", "dy": -4}, "encoding": {"x": {"field": "m", "type": "quantitative"}, "y": {"field": "g", "type": "quantitative", "scale": {"type": "log"}}, "text": {"field": "la"}, "color": {"field": "v", "type": "nominal", "scale": {"domain": ["c", "g"], "range": ["#111111", "#8c8c8c"]}, "legend": null}}},
          {"transform": [{"filter": "datum.v == 'g' && datum.m >= 12"}], "mark": {"type": "text", "fontSize": 5, "lineHeight": 5.5, "lineBreak": "\n", "baseline": "top", "dy": 4}, "encoding": {"x": {"field": "m", "type": "quantitative"}, "y": {"field": "g", "type": "quantitative", "scale": {"type": "log"}}, "text": {"field": "lb"}, "color": {"field": "v", "type": "nominal", "scale": {"domain": ["c", "g"], "range": ["#111111", "#8c8c8c"]}, "legend": null}}},
          {"transform": [{"filter": "datum.v == 'g' && datum.m == 7"}], "mark": {"type": "text", "fontSize": 5, "lineHeight": 5.5, "lineBreak": "\n", "baseline": "top", "align": "left", "dx": 1.5, "dy": 1.5}, "encoding": {"x": {"field": "m", "type": "quantitative"}, "y": {"field": "g", "type": "quantitative", "scale": {"type": "log"}}, "text": {"field": "lb"}, "color": {"field": "v", "type": "nominal", "scale": {"domain": ["c", "g"], "range": ["#111111", "#8c8c8c"]}, "legend": null}}},
          {"transform": [{"filter": "datum.m == 6 && datum.g == datum.mx"}], "mark": {"type": "text", "fontSize": 5, "lineHeight": 5.5, "lineBreak": "\n", "baseline": "bottom", "align": "right", "dx": -1.5}, "encoding": {"x": {"field": "m", "type": "quantitative"}, "y": {"field": "g", "type": "quantitative", "scale": {"type": "log"}}, "text": {"field": "la"}, "color": {"field": "v", "type": "nominal", "scale": {"domain": ["c", "g"], "range": ["#111111", "#8c8c8c"]}, "legend": null}}},
          {"transform": [{"filter": "datum.m == 6 && datum.g < datum.mx"}], "mark": {"type": "text", "fontSize": 5, "lineHeight": 5.5, "lineBreak": "\n", "baseline": "top", "dy": 4.5}, "encoding": {"x": {"field": "m", "type": "quantitative"}, "y": {"field": "g", "type": "quantitative", "scale": {"type": "log"}}, "text": {"field": "lb"}, "color": {"field": "v", "type": "nominal", "scale": {"domain": ["c", "g"], "range": ["#111111", "#8c8c8c"]}, "legend": null}}}
         ]},
        {"data": {"name": "br"}, "transform": [{"filter": "datum.p == 'B16'"}, {"calculate": "sqrt(datum.top * datum.bot)", "as": "ym"}],
         "layer": [
          {"transform": [{"filter": "datum.k == 'b1'"}], "mark": {"type": "rule", "color": "#8a8a8a", "strokeWidth": 0.8}, "encoding": {"x": {"datum": 24, "type": "quantitative"}, "y": {"field": "top", "type": "quantitative", "scale": {"type": "log"}}, "y2": {"field": "bot"}}},
          {"transform": [{"filter": "datum.k == 'b2'"}], "mark": {"type": "rule", "color": "#c0c0c0", "strokeWidth": 2}, "encoding": {"x": {"datum": 24.75, "type": "quantitative"}, "y": {"field": "top", "type": "quantitative", "scale": {"type": "log"}}, "y2": {"field": "bot"}}},
          {"transform": [{"filter": "datum.k == 'b3'"}], "mark": {"type": "rule", "color": "#666", "strokeWidth": 0.6}, "encoding": {"x": {"datum": 26.1, "type": "quantitative"}, "y": {"field": "top", "type": "quantitative", "scale": {"type": "log"}}, "y2": {"field": "bot"}}},
          {"transform": [{"filter": "datum.k == 'b1'"}], "mark": {"type": "text", "align": "left", "fontSize": 5, "color": "#444"}, "encoding": {"x": {"datum": 25.0, "type": "quantitative"}, "y": {"field": "ym", "type": "quantitative", "scale": {"type": "log"}}, "text": {"field": "t"}}},
          {"transform": [{"filter": "datum.k == 'b2'"}], "mark": {"type": "text", "align": "left", "fontSize": 5, "color": "#444"}, "encoding": {"x": {"datum": 25.15, "type": "quantitative"}, "y": {"field": "ym", "type": "quantitative", "scale": {"type": "log"}}, "text": {"field": "t"}}},
          {"transform": [{"filter": "datum.k == 'b3'"}], "mark": {"type": "text", "align": "left", "fontSize": 5, "color": "#444"}, "encoding": {"x": {"datum": 26.35, "type": "quantitative"}, "y": {"field": "ym", "type": "quantitative", "scale": {"type": "log"}}, "text": {"field": "t"}}}
         ]},
        {"data": {"values": [{"t": "//"}]}, "mark": {"type": "text", "fontSize": 6, "color": "#000"}, "encoding": {"x": {"datum": 5.0, "type": "quantitative"}, "y": {"datum": 1.1, "type": "quantitative"}, "text": {"field": "t"}}}
       ]},
      {"width": 120, "height": 18,
       "layer": [
        {"data": {"name": "rows"}, "mark": {"type": "rect", "fill": "#fff", "stroke": "#555", "strokeWidth": 0.6}, "encoding": {"x": {"datum": -4.6, "type": "quantitative", "scale": {"domain": [3.8, 24], "nice": false, "zero": false}, "axis": null}, "x2": {"datum": 25.4}, "y": {"field": "r", "type": "ordinal", "scale": {"type": "band", "domain": [0, 1, 2], "paddingInner": 0, "paddingOuter": 0}, "axis": null}}},
        {"data": {"name": "sep"}, "mark": {"type": "rule", "color": "#d0d0d0", "strokeWidth": 1, "yOffset": 4}, "encoding": {"x": {"datum": -4.6, "type": "quantitative"}, "x2": {"datum": 28.2}, "y": {"datum": 2, "type": "ordinal", "bandPosition": 1}}},
        {"data": {"name": "rows"}, "mark": {"type": "text", "align": "left", "fontSize": 4.8, "dx": 1.5}, "encoding": {"x": {"datum": -4.6, "type": "quantitative"}, "y": {"field": "r", "type": "ordinal"}, "text": {"field": "lab"}, "color": {"condition": {"test": "datum.r == 2", "value": "#9a9a9a"}, "value": "#222"}}},
        {"data": {"name": "hdr"}, "transform": [{"filter": "datum.m == 6"}], "mark": {"type": "text", "fontSize": 4.8, "fontWeight": "bold", "dx": 1.5, "color": "#222"}, "encoding": {"x": {"field": "m", "type": "quantitative"}, "y": {"field": "r", "type": "ordinal"}, "text": {"field": "t"}}},
        {"data": {"name": "hdr"}, "transform": [{"filter": "datum.m == 7"}], "mark": {"type": "text", "fontSize": 4.8, "fontWeight": "bold", "dx": 4.5, "color": "#222"}, "encoding": {"x": {"field": "m", "type": "quantitative"}, "y": {"field": "r", "type": "ordinal"}, "text": {"field": "t"}}},
        {"data": {"name": "hdr"}, "transform": [{"filter": "datum.m >= 12"}], "mark": {"type": "text", "fontSize": 4.8, "fontWeight": "bold", "color": "#222"}, "encoding": {"x": {"field": "m", "type": "quantitative"}, "y": {"field": "r", "type": "ordinal"}, "text": {"field": "t"}}},
        {"data": {"name": "sero"}, "transform": [{"filter": "datum.p == 'B16' && datum.m == 6"}], "mark": {"type": "text", "fontSize": 4.8, "dx": 1.5}, "encoding": {"x": {"field": "m", "type": "quantitative"}, "y": {"field": "r", "type": "ordinal"}, "text": {"field": "t"}, "color": {"condition": {"test": "datum.r == 2", "value": "#9a9a9a"}, "value": "#222"}}},
        {"data": {"name": "sero"}, "transform": [{"filter": "datum.p == 'B16' && datum.m == 7"}], "mark": {"type": "text", "fontSize": 4.8, "dx": 4.5}, "encoding": {"x": {"field": "m", "type": "quantitative"}, "y": {"field": "r", "type": "ordinal"}, "text": {"field": "t"}, "color": {"condition": {"test": "datum.r == 2", "value": "#9a9a9a"}, "value": "#222"}}},
        {"data": {"name": "sero"}, "transform": [{"filter": "datum.p == 'B16' && datum.m >= 12"}], "mark": {"type": "text", "fontSize": 4.8}, "encoding": {"x": {"field": "m", "type": "quantitative"}, "y": {"field": "r", "type": "ordinal"}, "text": {"field": "t"}, "color": {"condition": {"test": "datum.r == 2", "value": "#9a9a9a"}, "value": "#222"}}}
       ]}
    ]},
    {"spacing": 3, "vconcat": [
      {"width": 120, "height": 94, "title": {"text": "HPV-18", "frame": "group", "offset": 0, "dx": 8},
       "layer": [
        {"data": {"name": "cut"}, "transform": [{"filter": "datum.p == 'B18' && datum.k == 'dash'"}], "mark": {"type": "rule", "strokeDash": [4, 3], "color": "#9a9a9a", "strokeWidth": 0.9}, "encoding": {"x": {"datum": 3.8, "type": "quantitative"}, "x2": {"datum": 24.3}, "y": {"field": "y", "type": "quantitative", "scale": {"type": "log"}}}},
        {"data": {"name": "cut"}, "transform": [{"filter": "datum.p == 'B18' && datum.k == 'dot'"}], "mark": {"type": "rule", "strokeDash": [1, 1.5], "color": "#333", "strokeWidth": 0.9}, "encoding": {"x": {"datum": 3.8, "type": "quantitative"}, "x2": {"datum": 26.1}, "y": {"field": "y", "type": "quantitative", "scale": {"type": "log"}}}},
        {"data": {"name": "gmt"}, "transform": [{"filter": "datum.p == 'B18'"}, {"joinaggregate": [{"op": "max", "field": "g", "as": "mx"}], "groupby": ["m"]}, {"calculate": "'N=' + datum.n + '\\n' + datum.g", "as": "la"}, {"calculate": "datum.g + '\\nN=' + datum.n", "as": "lb"}],
         "layer": [
          {"transform": [{"filter": "datum.v == 'g'"}], "mark": {"type": "line", "strokeWidth": 1.4, "color": "#8c8c8c"},
           "encoding": {"x": {"field": "m", "type": "quantitative", "title": "Month", "scale": {"domain": [3.8, 24], "nice": false, "zero": false}, "axis": {"values": [3.8, 6, 8, 10, 12, 14, 16, 18, 20, 22, 24], "tickCount": 30, "format": "d", "labelExpr": "datum.value < 5 ? '0' : datum.label", "labelFlush": false, "labelOverlap": false, "titlePadding": 2, "labelColor": "#000", "titleColor": "#000"}},
                        "y": {"field": "g", "type": "quantitative", "title": "IgG antibody GMT (ELISA, units/mL)", "scale": {"type": "log", "domain": [1, 10000], "nice": false}, "axis": {"values": [1, 10, 100, 1000, 10000], "tickCount": 10, "format": "d", "labelFlush": false, "titlePadding": 19, "titleFontSize": 5.3, "labelColor": "#000", "titleColor": "#000"}}}},
          {"transform": [{"filter": "datum.v == 'c'"}], "mark": {"type": "line", "strokeWidth": 1.8, "color": "#111"}, "encoding": {"x": {"field": "m", "type": "quantitative"}, "y": {"field": "g", "type": "quantitative", "scale": {"type": "log"}}}},
          {"mark": {"type": "rule", "strokeWidth": 0.7}, "encoding": {"x": {"field": "m", "type": "quantitative"}, "y": {"field": "lo", "type": "quantitative", "scale": {"type": "log"}}, "y2": {"field": "hi"}, "color": {"field": "v", "type": "nominal", "scale": {"domain": ["c", "g"], "range": ["#111111", "#8c8c8c"]}, "legend": null}}},
          {"transform": [{"fold": ["lo", "hi"], "as": ["kk", "e"]}], "mark": {"type": "tick", "orient": "horizontal", "size": 3, "thickness": 0.7}, "encoding": {"x": {"field": "m", "type": "quantitative"}, "y": {"field": "e", "type": "quantitative", "scale": {"type": "log"}}, "color": {"field": "v", "type": "nominal", "scale": {"domain": ["c", "g"], "range": ["#111111", "#8c8c8c"]}, "legend": null}}},
          {"transform": [{"filter": "datum.v == 'c' && datum.m >= 7"}], "mark": {"type": "text", "fontSize": 5, "lineHeight": 5.5, "lineBreak": "\n", "baseline": "bottom", "dy": -4}, "encoding": {"x": {"field": "m", "type": "quantitative"}, "y": {"field": "g", "type": "quantitative", "scale": {"type": "log"}}, "text": {"field": "la"}, "color": {"field": "v", "type": "nominal", "scale": {"domain": ["c", "g"], "range": ["#111111", "#8c8c8c"]}, "legend": null}}},
          {"transform": [{"filter": "datum.v == 'g' && datum.m >= 12"}], "mark": {"type": "text", "fontSize": 5, "lineHeight": 5.5, "lineBreak": "\n", "baseline": "top", "dy": 4}, "encoding": {"x": {"field": "m", "type": "quantitative"}, "y": {"field": "g", "type": "quantitative", "scale": {"type": "log"}}, "text": {"field": "lb"}, "color": {"field": "v", "type": "nominal", "scale": {"domain": ["c", "g"], "range": ["#111111", "#8c8c8c"]}, "legend": null}}},
          {"transform": [{"filter": "datum.v == 'g' && datum.m == 7"}], "mark": {"type": "text", "fontSize": 5, "lineHeight": 5.5, "lineBreak": "\n", "baseline": "top", "align": "left", "dx": 1.5, "dy": 1.5}, "encoding": {"x": {"field": "m", "type": "quantitative"}, "y": {"field": "g", "type": "quantitative", "scale": {"type": "log"}}, "text": {"field": "lb"}, "color": {"field": "v", "type": "nominal", "scale": {"domain": ["c", "g"], "range": ["#111111", "#8c8c8c"]}, "legend": null}}},
          {"transform": [{"filter": "datum.m == 6 && datum.g == datum.mx"}], "mark": {"type": "text", "fontSize": 5, "lineHeight": 5.5, "lineBreak": "\n", "baseline": "bottom", "align": "right", "dx": -1.5}, "encoding": {"x": {"field": "m", "type": "quantitative"}, "y": {"field": "g", "type": "quantitative", "scale": {"type": "log"}}, "text": {"field": "la"}, "color": {"field": "v", "type": "nominal", "scale": {"domain": ["c", "g"], "range": ["#111111", "#8c8c8c"]}, "legend": null}}},
          {"transform": [{"filter": "datum.m == 6 && datum.g < datum.mx"}], "mark": {"type": "text", "fontSize": 5, "lineHeight": 5.5, "lineBreak": "\n", "baseline": "top", "dy": 4.5}, "encoding": {"x": {"field": "m", "type": "quantitative"}, "y": {"field": "g", "type": "quantitative", "scale": {"type": "log"}}, "text": {"field": "lb"}, "color": {"field": "v", "type": "nominal", "scale": {"domain": ["c", "g"], "range": ["#111111", "#8c8c8c"]}, "legend": null}}}
         ]},
        {"data": {"name": "br"}, "transform": [{"filter": "datum.p == 'B18'"}, {"calculate": "sqrt(datum.top * datum.bot)", "as": "ym"}],
         "layer": [
          {"transform": [{"filter": "datum.k == 'b1'"}], "mark": {"type": "rule", "color": "#8a8a8a", "strokeWidth": 0.8}, "encoding": {"x": {"datum": 24, "type": "quantitative"}, "y": {"field": "top", "type": "quantitative", "scale": {"type": "log"}}, "y2": {"field": "bot"}}},
          {"transform": [{"filter": "datum.k == 'b2'"}], "mark": {"type": "rule", "color": "#c0c0c0", "strokeWidth": 2}, "encoding": {"x": {"datum": 24.75, "type": "quantitative"}, "y": {"field": "top", "type": "quantitative", "scale": {"type": "log"}}, "y2": {"field": "bot"}}},
          {"transform": [{"filter": "datum.k == 'b3'"}], "mark": {"type": "rule", "color": "#666", "strokeWidth": 0.6}, "encoding": {"x": {"datum": 26.1, "type": "quantitative"}, "y": {"field": "top", "type": "quantitative", "scale": {"type": "log"}}, "y2": {"field": "bot"}}},
          {"transform": [{"filter": "datum.k == 'b1'"}], "mark": {"type": "text", "align": "left", "fontSize": 5, "color": "#444"}, "encoding": {"x": {"datum": 25.0, "type": "quantitative"}, "y": {"field": "ym", "type": "quantitative", "scale": {"type": "log"}}, "text": {"field": "t"}}},
          {"transform": [{"filter": "datum.k == 'b2'"}], "mark": {"type": "text", "align": "left", "fontSize": 5, "color": "#444"}, "encoding": {"x": {"datum": 25.15, "type": "quantitative"}, "y": {"field": "ym", "type": "quantitative", "scale": {"type": "log"}}, "text": {"field": "t"}}},
          {"transform": [{"filter": "datum.k == 'b3'"}], "mark": {"type": "text", "align": "left", "fontSize": 5, "color": "#444"}, "encoding": {"x": {"datum": 26.35, "type": "quantitative"}, "y": {"field": "ym", "type": "quantitative", "scale": {"type": "log"}}, "text": {"field": "t"}}}
         ]},
        {"data": {"values": [{"t": "//"}]}, "mark": {"type": "text", "fontSize": 6, "color": "#000"}, "encoding": {"x": {"datum": 5.0, "type": "quantitative"}, "y": {"datum": 1.1, "type": "quantitative"}, "text": {"field": "t"}}}
       ]},
      {"width": 120, "height": 18,
       "layer": [
        {"data": {"name": "rows"}, "mark": {"type": "rect", "fill": "#fff", "stroke": "#555", "strokeWidth": 0.6}, "encoding": {"x": {"datum": -4.6, "type": "quantitative", "scale": {"domain": [3.8, 24], "nice": false, "zero": false}, "axis": null}, "x2": {"datum": 25.4}, "y": {"field": "r", "type": "ordinal", "scale": {"type": "band", "domain": [0, 1, 2], "paddingInner": 0, "paddingOuter": 0}, "axis": null}}},
        {"data": {"name": "sep"}, "mark": {"type": "rule", "color": "#d0d0d0", "strokeWidth": 1, "yOffset": 4}, "encoding": {"x": {"datum": -4.6, "type": "quantitative"}, "x2": {"datum": 28.2}, "y": {"datum": 2, "type": "ordinal", "bandPosition": 1}}},
        {"data": {"name": "rows"}, "mark": {"type": "text", "align": "left", "fontSize": 4.8, "dx": 1.5}, "encoding": {"x": {"datum": -4.6, "type": "quantitative"}, "y": {"field": "r", "type": "ordinal"}, "text": {"field": "lab"}, "color": {"condition": {"test": "datum.r == 2", "value": "#9a9a9a"}, "value": "#222"}}},
        {"data": {"name": "hdr"}, "transform": [{"filter": "datum.m == 6"}], "mark": {"type": "text", "fontSize": 4.8, "fontWeight": "bold", "dx": 1.5, "color": "#222"}, "encoding": {"x": {"field": "m", "type": "quantitative"}, "y": {"field": "r", "type": "ordinal"}, "text": {"field": "t"}}},
        {"data": {"name": "hdr"}, "transform": [{"filter": "datum.m == 7"}], "mark": {"type": "text", "fontSize": 4.8, "fontWeight": "bold", "dx": 4.5, "color": "#222"}, "encoding": {"x": {"field": "m", "type": "quantitative"}, "y": {"field": "r", "type": "ordinal"}, "text": {"field": "t"}}},
        {"data": {"name": "hdr"}, "transform": [{"filter": "datum.m >= 12"}], "mark": {"type": "text", "fontSize": 4.8, "fontWeight": "bold", "color": "#222"}, "encoding": {"x": {"field": "m", "type": "quantitative"}, "y": {"field": "r", "type": "ordinal"}, "text": {"field": "t"}}},
        {"data": {"name": "sero"}, "transform": [{"filter": "datum.p == 'B18' && datum.m == 6"}], "mark": {"type": "text", "fontSize": 4.8, "dx": 1.5}, "encoding": {"x": {"field": "m", "type": "quantitative"}, "y": {"field": "r", "type": "ordinal"}, "text": {"field": "t"}, "color": {"condition": {"test": "datum.r == 2", "value": "#9a9a9a"}, "value": "#222"}}},
        {"data": {"name": "sero"}, "transform": [{"filter": "datum.p == 'B18' && datum.m == 7"}], "mark": {"type": "text", "fontSize": 4.8, "dx": 4.5}, "encoding": {"x": {"field": "m", "type": "quantitative"}, "y": {"field": "r", "type": "ordinal"}, "text": {"field": "t"}, "color": {"condition": {"test": "datum.r == 2", "value": "#9a9a9a"}, "value": "#222"}}},
        {"data": {"name": "sero"}, "transform": [{"filter": "datum.p == 'B18' && datum.m >= 12"}], "mark": {"type": "text", "fontSize": 4.8}, "encoding": {"x": {"field": "m", "type": "quantitative"}, "y": {"field": "r", "type": "ordinal"}, "text": {"field": "t"}, "color": {"condition": {"test": "datum.r == 2", "value": "#9a9a9a"}, "value": "#222"}}}
       ]}
    ]}
  ]
 }]
},
{"title": {"text": "C", "anchor": "start", "frame": "bounds", "fontSize": 13, "fontWeight": "normal", "offset": -11, "dx": -2},
 "vconcat": [{
  "title": {"text": "36–45 years", "anchor": "start", "frame": "bounds", "fontSize": 8.5, "fontWeight": "bold", "dx": 28, "offset": 2},
  "spacing": 3,
  "hconcat": [
    {"spacing": 3, "vconcat": [
      {"width": 120, "height": 94, "title": {"text": "HPV-16", "frame": "group", "offset": 0, "dx": 7},
       "layer": [
        {"data": {"name": "cut"}, "transform": [{"filter": "datum.p == 'C16' && datum.k == 'dash'"}], "mark": {"type": "rule", "strokeDash": [4, 3], "color": "#9a9a9a", "strokeWidth": 0.9}, "encoding": {"x": {"datum": 3.8, "type": "quantitative"}, "x2": {"datum": 24.3}, "y": {"field": "y", "type": "quantitative", "scale": {"type": "log"}}}},
        {"data": {"name": "cut"}, "transform": [{"filter": "datum.p == 'C16' && datum.k == 'dot'"}], "mark": {"type": "rule", "strokeDash": [1, 1.5], "color": "#333", "strokeWidth": 0.9}, "encoding": {"x": {"datum": 3.8, "type": "quantitative"}, "x2": {"datum": 26.1}, "y": {"field": "y", "type": "quantitative", "scale": {"type": "log"}}}},
        {"data": {"name": "gmt"}, "transform": [{"filter": "datum.p == 'C16'"}, {"joinaggregate": [{"op": "max", "field": "g", "as": "mx"}], "groupby": ["m"]}, {"calculate": "'N=' + datum.n + '\\n' + datum.g", "as": "la"}, {"calculate": "datum.g + '\\nN=' + datum.n", "as": "lb"}],
         "layer": [
          {"transform": [{"filter": "datum.v == 'g'"}], "mark": {"type": "line", "strokeWidth": 1.4, "color": "#8c8c8c"},
           "encoding": {"x": {"field": "m", "type": "quantitative", "title": "Month", "scale": {"domain": [3.8, 24], "nice": false, "zero": false}, "axis": {"values": [3.8, 6, 8, 10, 12, 14, 16, 18, 20, 22, 24], "tickCount": 30, "format": "d", "labelExpr": "datum.value < 5 ? '0' : datum.label", "labelFlush": false, "labelOverlap": false, "titlePadding": 2, "labelColor": "#000", "titleColor": "#000"}},
                        "y": {"field": "g", "type": "quantitative", "title": "IgG antibody GMT (ELISA, units/mL)", "scale": {"type": "log", "domain": [1, 10000], "nice": false}, "axis": {"values": [1, 10, 100, 1000, 10000], "tickCount": 10, "format": "d", "labelFlush": false, "titlePadding": 19, "titleFontSize": 5.3, "labelColor": "#000", "titleColor": "#000"}}}},
          {"transform": [{"filter": "datum.v == 'c'"}], "mark": {"type": "line", "strokeWidth": 1.8, "color": "#111"}, "encoding": {"x": {"field": "m", "type": "quantitative"}, "y": {"field": "g", "type": "quantitative", "scale": {"type": "log"}}}},
          {"mark": {"type": "rule", "strokeWidth": 0.7}, "encoding": {"x": {"field": "m", "type": "quantitative"}, "y": {"field": "lo", "type": "quantitative", "scale": {"type": "log"}}, "y2": {"field": "hi"}, "color": {"field": "v", "type": "nominal", "scale": {"domain": ["c", "g"], "range": ["#111111", "#8c8c8c"]}, "legend": null}}},
          {"transform": [{"fold": ["lo", "hi"], "as": ["kk", "e"]}], "mark": {"type": "tick", "orient": "horizontal", "size": 3, "thickness": 0.7}, "encoding": {"x": {"field": "m", "type": "quantitative"}, "y": {"field": "e", "type": "quantitative", "scale": {"type": "log"}}, "color": {"field": "v", "type": "nominal", "scale": {"domain": ["c", "g"], "range": ["#111111", "#8c8c8c"]}, "legend": null}}},
          {"transform": [{"filter": "datum.v == 'c' && datum.m >= 7"}], "mark": {"type": "text", "fontSize": 5, "lineHeight": 5.5, "lineBreak": "\n", "baseline": "bottom", "dy": -4}, "encoding": {"x": {"field": "m", "type": "quantitative"}, "y": {"field": "g", "type": "quantitative", "scale": {"type": "log"}}, "text": {"field": "la"}, "color": {"field": "v", "type": "nominal", "scale": {"domain": ["c", "g"], "range": ["#111111", "#8c8c8c"]}, "legend": null}}},
          {"transform": [{"filter": "datum.v == 'g' && datum.m >= 12"}], "mark": {"type": "text", "fontSize": 5, "lineHeight": 5.5, "lineBreak": "\n", "baseline": "top", "dy": 4}, "encoding": {"x": {"field": "m", "type": "quantitative"}, "y": {"field": "g", "type": "quantitative", "scale": {"type": "log"}}, "text": {"field": "lb"}, "color": {"field": "v", "type": "nominal", "scale": {"domain": ["c", "g"], "range": ["#111111", "#8c8c8c"]}, "legend": null}}},
          {"transform": [{"filter": "datum.v == 'g' && datum.m == 7"}], "mark": {"type": "text", "fontSize": 5, "lineHeight": 5.5, "lineBreak": "\n", "baseline": "top", "align": "left", "dx": 1.5, "dy": 1.5}, "encoding": {"x": {"field": "m", "type": "quantitative"}, "y": {"field": "g", "type": "quantitative", "scale": {"type": "log"}}, "text": {"field": "lb"}, "color": {"field": "v", "type": "nominal", "scale": {"domain": ["c", "g"], "range": ["#111111", "#8c8c8c"]}, "legend": null}}},
          {"transform": [{"filter": "datum.m == 6 && datum.g == datum.mx"}], "mark": {"type": "text", "fontSize": 5, "lineHeight": 5.5, "lineBreak": "\n", "baseline": "bottom", "align": "right", "dx": -1.5}, "encoding": {"x": {"field": "m", "type": "quantitative"}, "y": {"field": "g", "type": "quantitative", "scale": {"type": "log"}}, "text": {"field": "la"}, "color": {"field": "v", "type": "nominal", "scale": {"domain": ["c", "g"], "range": ["#111111", "#8c8c8c"]}, "legend": null}}},
          {"transform": [{"filter": "datum.m == 6 && datum.g < datum.mx"}], "mark": {"type": "text", "fontSize": 5, "lineHeight": 5.5, "lineBreak": "\n", "baseline": "top", "dy": 4.5}, "encoding": {"x": {"field": "m", "type": "quantitative"}, "y": {"field": "g", "type": "quantitative", "scale": {"type": "log"}}, "text": {"field": "lb"}, "color": {"field": "v", "type": "nominal", "scale": {"domain": ["c", "g"], "range": ["#111111", "#8c8c8c"]}, "legend": null}}}
         ]},
        {"data": {"name": "br"}, "transform": [{"filter": "datum.p == 'C16'"}, {"calculate": "sqrt(datum.top * datum.bot)", "as": "ym"}],
         "layer": [
          {"transform": [{"filter": "datum.k == 'b1'"}], "mark": {"type": "rule", "color": "#8a8a8a", "strokeWidth": 0.8}, "encoding": {"x": {"datum": 24, "type": "quantitative"}, "y": {"field": "top", "type": "quantitative", "scale": {"type": "log"}}, "y2": {"field": "bot"}}},
          {"transform": [{"filter": "datum.k == 'b2'"}], "mark": {"type": "rule", "color": "#c0c0c0", "strokeWidth": 2}, "encoding": {"x": {"datum": 24.75, "type": "quantitative"}, "y": {"field": "top", "type": "quantitative", "scale": {"type": "log"}}, "y2": {"field": "bot"}}},
          {"transform": [{"filter": "datum.k == 'b3'"}], "mark": {"type": "rule", "color": "#666", "strokeWidth": 0.6}, "encoding": {"x": {"datum": 26.1, "type": "quantitative"}, "y": {"field": "top", "type": "quantitative", "scale": {"type": "log"}}, "y2": {"field": "bot"}}},
          {"transform": [{"filter": "datum.k == 'b1'"}], "mark": {"type": "text", "align": "left", "fontSize": 5, "color": "#444"}, "encoding": {"x": {"datum": 25.0, "type": "quantitative"}, "y": {"field": "ym", "type": "quantitative", "scale": {"type": "log"}}, "text": {"field": "t"}}},
          {"transform": [{"filter": "datum.k == 'b2'"}], "mark": {"type": "text", "align": "left", "fontSize": 5, "color": "#444"}, "encoding": {"x": {"datum": 25.15, "type": "quantitative"}, "y": {"field": "ym", "type": "quantitative", "scale": {"type": "log"}}, "text": {"field": "t"}}},
          {"transform": [{"filter": "datum.k == 'b3'"}], "mark": {"type": "text", "align": "left", "fontSize": 5, "color": "#444"}, "encoding": {"x": {"datum": 26.35, "type": "quantitative"}, "y": {"field": "ym", "type": "quantitative", "scale": {"type": "log"}}, "text": {"field": "t"}}}
         ]},
        {"data": {"values": [{"t": "//"}]}, "mark": {"type": "text", "fontSize": 6, "color": "#000"}, "encoding": {"x": {"datum": 5.0, "type": "quantitative"}, "y": {"datum": 1.1, "type": "quantitative"}, "text": {"field": "t"}}}
       ]},
      {"width": 120, "height": 18,
       "layer": [
        {"data": {"name": "rows"}, "mark": {"type": "rect", "fill": "#fff", "stroke": "#555", "strokeWidth": 0.6}, "encoding": {"x": {"datum": -4.6, "type": "quantitative", "scale": {"domain": [3.8, 24], "nice": false, "zero": false}, "axis": null}, "x2": {"datum": 25.4}, "y": {"field": "r", "type": "ordinal", "scale": {"type": "band", "domain": [0, 1, 2], "paddingInner": 0, "paddingOuter": 0}, "axis": null}}},
        {"data": {"name": "rows"}, "mark": {"type": "text", "align": "left", "fontSize": 4.8, "dx": 1.5}, "encoding": {"x": {"datum": -4.6, "type": "quantitative"}, "y": {"field": "r", "type": "ordinal"}, "text": {"field": "lab"}, "color": {"condition": {"test": "datum.r == 2", "value": "#9a9a9a"}, "value": "#222"}}},
        {"data": {"name": "hdr"}, "transform": [{"filter": "datum.m == 6"}], "mark": {"type": "text", "fontSize": 4.8, "fontWeight": "bold", "dx": 1.5, "color": "#222"}, "encoding": {"x": {"field": "m", "type": "quantitative"}, "y": {"field": "r", "type": "ordinal"}, "text": {"field": "t"}}},
        {"data": {"name": "hdr"}, "transform": [{"filter": "datum.m == 7"}], "mark": {"type": "text", "fontSize": 4.8, "fontWeight": "bold", "dx": 4.5, "color": "#222"}, "encoding": {"x": {"field": "m", "type": "quantitative"}, "y": {"field": "r", "type": "ordinal"}, "text": {"field": "t"}}},
        {"data": {"name": "hdr"}, "transform": [{"filter": "datum.m >= 12"}], "mark": {"type": "text", "fontSize": 4.8, "fontWeight": "bold", "color": "#222"}, "encoding": {"x": {"field": "m", "type": "quantitative"}, "y": {"field": "r", "type": "ordinal"}, "text": {"field": "t"}}},
        {"data": {"name": "sero"}, "transform": [{"filter": "datum.p == 'C16' && datum.m == 6"}], "mark": {"type": "text", "fontSize": 4.8, "dx": 1.5}, "encoding": {"x": {"field": "m", "type": "quantitative"}, "y": {"field": "r", "type": "ordinal"}, "text": {"field": "t"}, "color": {"condition": {"test": "datum.r == 2", "value": "#9a9a9a"}, "value": "#222"}}},
        {"data": {"name": "sero"}, "transform": [{"filter": "datum.p == 'C16' && datum.m == 7"}], "mark": {"type": "text", "fontSize": 4.8, "dx": 4.5}, "encoding": {"x": {"field": "m", "type": "quantitative"}, "y": {"field": "r", "type": "ordinal"}, "text": {"field": "t"}, "color": {"condition": {"test": "datum.r == 2", "value": "#9a9a9a"}, "value": "#222"}}},
        {"data": {"name": "sero"}, "transform": [{"filter": "datum.p == 'C16' && datum.m >= 12"}], "mark": {"type": "text", "fontSize": 4.8}, "encoding": {"x": {"field": "m", "type": "quantitative"}, "y": {"field": "r", "type": "ordinal"}, "text": {"field": "t"}, "color": {"condition": {"test": "datum.r == 2", "value": "#9a9a9a"}, "value": "#222"}}}
       ]}
    ]},
    {"spacing": 3, "vconcat": [
      {"width": 120, "height": 94, "title": {"text": "HPV-18", "frame": "group", "offset": 0, "dx": 8},
       "layer": [
        {"data": {"name": "cut"}, "transform": [{"filter": "datum.p == 'C18' && datum.k == 'dash'"}], "mark": {"type": "rule", "strokeDash": [4, 3], "color": "#9a9a9a", "strokeWidth": 0.9}, "encoding": {"x": {"datum": 3.8, "type": "quantitative"}, "x2": {"datum": 24.3}, "y": {"field": "y", "type": "quantitative", "scale": {"type": "log"}}}},
        {"data": {"name": "cut"}, "transform": [{"filter": "datum.p == 'C18' && datum.k == 'dot'"}], "mark": {"type": "rule", "strokeDash": [1, 1.5], "color": "#333", "strokeWidth": 0.9}, "encoding": {"x": {"datum": 3.8, "type": "quantitative"}, "x2": {"datum": 26.1}, "y": {"field": "y", "type": "quantitative", "scale": {"type": "log"}}}},
        {"data": {"name": "gmt"}, "transform": [{"filter": "datum.p == 'C18'"}, {"joinaggregate": [{"op": "max", "field": "g", "as": "mx"}], "groupby": ["m"]}, {"calculate": "'N=' + datum.n + '\\n' + datum.g", "as": "la"}, {"calculate": "datum.g + '\\nN=' + datum.n", "as": "lb"}],
         "layer": [
          {"transform": [{"filter": "datum.v == 'g'"}], "mark": {"type": "line", "strokeWidth": 1.4, "color": "#8c8c8c"},
           "encoding": {"x": {"field": "m", "type": "quantitative", "title": "Month", "scale": {"domain": [3.8, 24], "nice": false, "zero": false}, "axis": {"values": [3.8, 6, 8, 10, 12, 14, 16, 18, 20, 22, 24], "tickCount": 30, "format": "d", "labelExpr": "datum.value < 5 ? '0' : datum.label", "labelFlush": false, "labelOverlap": false, "titlePadding": 2, "labelColor": "#000", "titleColor": "#000"}},
                        "y": {"field": "g", "type": "quantitative", "title": "IgG antibody GMT (ELISA, units/mL)", "scale": {"type": "log", "domain": [1, 10000], "nice": false}, "axis": {"values": [1, 10, 100, 1000, 10000], "tickCount": 10, "format": "d", "labelFlush": false, "titlePadding": 19, "titleFontSize": 5.3, "labelColor": "#000", "titleColor": "#000"}}}},
          {"transform": [{"filter": "datum.v == 'c'"}], "mark": {"type": "line", "strokeWidth": 1.8, "color": "#111"}, "encoding": {"x": {"field": "m", "type": "quantitative"}, "y": {"field": "g", "type": "quantitative", "scale": {"type": "log"}}}},
          {"mark": {"type": "rule", "strokeWidth": 0.7}, "encoding": {"x": {"field": "m", "type": "quantitative"}, "y": {"field": "lo", "type": "quantitative", "scale": {"type": "log"}}, "y2": {"field": "hi"}, "color": {"field": "v", "type": "nominal", "scale": {"domain": ["c", "g"], "range": ["#111111", "#8c8c8c"]}, "legend": null}}},
          {"transform": [{"fold": ["lo", "hi"], "as": ["kk", "e"]}], "mark": {"type": "tick", "orient": "horizontal", "size": 3, "thickness": 0.7}, "encoding": {"x": {"field": "m", "type": "quantitative"}, "y": {"field": "e", "type": "quantitative", "scale": {"type": "log"}}, "color": {"field": "v", "type": "nominal", "scale": {"domain": ["c", "g"], "range": ["#111111", "#8c8c8c"]}, "legend": null}}},
          {"transform": [{"filter": "datum.v == 'c' && datum.m >= 7"}], "mark": {"type": "text", "fontSize": 5, "lineHeight": 5.5, "lineBreak": "\n", "baseline": "bottom", "dy": -4}, "encoding": {"x": {"field": "m", "type": "quantitative"}, "y": {"field": "g", "type": "quantitative", "scale": {"type": "log"}}, "text": {"field": "la"}, "color": {"field": "v", "type": "nominal", "scale": {"domain": ["c", "g"], "range": ["#111111", "#8c8c8c"]}, "legend": null}}},
          {"transform": [{"filter": "datum.v == 'g' && datum.m >= 12"}], "mark": {"type": "text", "fontSize": 5, "lineHeight": 5.5, "lineBreak": "\n", "baseline": "top", "dy": 4}, "encoding": {"x": {"field": "m", "type": "quantitative"}, "y": {"field": "g", "type": "quantitative", "scale": {"type": "log"}}, "text": {"field": "lb"}, "color": {"field": "v", "type": "nominal", "scale": {"domain": ["c", "g"], "range": ["#111111", "#8c8c8c"]}, "legend": null}}},
          {"transform": [{"filter": "datum.v == 'g' && datum.m == 7"}], "mark": {"type": "text", "fontSize": 5, "lineHeight": 5.5, "lineBreak": "\n", "baseline": "top", "align": "left", "dx": 1.5, "dy": 1.5}, "encoding": {"x": {"field": "m", "type": "quantitative"}, "y": {"field": "g", "type": "quantitative", "scale": {"type": "log"}}, "text": {"field": "lb"}, "color": {"field": "v", "type": "nominal", "scale": {"domain": ["c", "g"], "range": ["#111111", "#8c8c8c"]}, "legend": null}}},
          {"transform": [{"filter": "datum.m == 6 && datum.g == datum.mx"}], "mark": {"type": "text", "fontSize": 5, "lineHeight": 5.5, "lineBreak": "\n", "baseline": "bottom", "align": "right", "dx": -1.5}, "encoding": {"x": {"field": "m", "type": "quantitative"}, "y": {"field": "g", "type": "quantitative", "scale": {"type": "log"}}, "text": {"field": "la"}, "color": {"field": "v", "type": "nominal", "scale": {"domain": ["c", "g"], "range": ["#111111", "#8c8c8c"]}, "legend": null}}},
          {"transform": [{"filter": "datum.m == 6 && datum.g < datum.mx"}], "mark": {"type": "text", "fontSize": 5, "lineHeight": 5.5, "lineBreak": "\n", "baseline": "top", "dy": 4.5}, "encoding": {"x": {"field": "m", "type": "quantitative"}, "y": {"field": "g", "type": "quantitative", "scale": {"type": "log"}}, "text": {"field": "lb"}, "color": {"field": "v", "type": "nominal", "scale": {"domain": ["c", "g"], "range": ["#111111", "#8c8c8c"]}, "legend": null}}}
         ]},
        {"data": {"name": "br"}, "transform": [{"filter": "datum.p == 'C18'"}, {"calculate": "sqrt(datum.top * datum.bot)", "as": "ym"}],
         "layer": [
          {"transform": [{"filter": "datum.k == 'b1'"}], "mark": {"type": "rule", "color": "#8a8a8a", "strokeWidth": 0.8}, "encoding": {"x": {"datum": 24, "type": "quantitative"}, "y": {"field": "top", "type": "quantitative", "scale": {"type": "log"}}, "y2": {"field": "bot"}}},
          {"transform": [{"filter": "datum.k == 'b2'"}], "mark": {"type": "rule", "color": "#c0c0c0", "strokeWidth": 2}, "encoding": {"x": {"datum": 24.75, "type": "quantitative"}, "y": {"field": "top", "type": "quantitative", "scale": {"type": "log"}}, "y2": {"field": "bot"}}},
          {"transform": [{"filter": "datum.k == 'b3'"}], "mark": {"type": "rule", "color": "#666", "strokeWidth": 0.6}, "encoding": {"x": {"datum": 26.1, "type": "quantitative"}, "y": {"field": "top", "type": "quantitative", "scale": {"type": "log"}}, "y2": {"field": "bot"}}},
          {"transform": [{"filter": "datum.k == 'b1'"}], "mark": {"type": "text", "align": "left", "fontSize": 5, "color": "#444"}, "encoding": {"x": {"datum": 25.0, "type": "quantitative"}, "y": {"field": "ym", "type": "quantitative", "scale": {"type": "log"}}, "text": {"field": "t"}}},
          {"transform": [{"filter": "datum.k == 'b2'"}], "mark": {"type": "text", "align": "left", "fontSize": 5, "color": "#444"}, "encoding": {"x": {"datum": 25.15, "type": "quantitative"}, "y": {"field": "ym", "type": "quantitative", "scale": {"type": "log"}}, "text": {"field": "t"}}},
          {"transform": [{"filter": "datum.k == 'b3'"}], "mark": {"type": "text", "align": "left", "fontSize": 5, "color": "#444"}, "encoding": {"x": {"datum": 26.35, "type": "quantitative"}, "y": {"field": "ym", "type": "quantitative", "scale": {"type": "log"}}, "text": {"field": "t"}}}
         ]},
        {"data": {"values": [{"t": "//"}]}, "mark": {"type": "text", "fontSize": 6, "color": "#000"}, "encoding": {"x": {"datum": 5.0, "type": "quantitative"}, "y": {"datum": 1.1, "type": "quantitative"}, "text": {"field": "t"}}}
       ]},
      {"width": 120, "height": 18,
       "layer": [
        {"data": {"name": "rows"}, "mark": {"type": "rect", "fill": "#fff", "stroke": "#555", "strokeWidth": 0.6}, "encoding": {"x": {"datum": -4.6, "type": "quantitative", "scale": {"domain": [3.8, 24], "nice": false, "zero": false}, "axis": null}, "x2": {"datum": 25.4}, "y": {"field": "r", "type": "ordinal", "scale": {"type": "band", "domain": [0, 1, 2], "paddingInner": 0, "paddingOuter": 0}, "axis": null}}},
        {"data": {"name": "rows"}, "mark": {"type": "text", "align": "left", "fontSize": 4.8, "dx": 1.5}, "encoding": {"x": {"datum": -4.6, "type": "quantitative"}, "y": {"field": "r", "type": "ordinal"}, "text": {"field": "lab"}, "color": {"condition": {"test": "datum.r == 2", "value": "#9a9a9a"}, "value": "#222"}}},
        {"data": {"name": "hdr"}, "transform": [{"filter": "datum.m == 6"}], "mark": {"type": "text", "fontSize": 4.8, "fontWeight": "bold", "dx": 1.5, "color": "#222"}, "encoding": {"x": {"field": "m", "type": "quantitative"}, "y": {"field": "r", "type": "ordinal"}, "text": {"field": "t"}}},
        {"data": {"name": "hdr"}, "transform": [{"filter": "datum.m == 7"}], "mark": {"type": "text", "fontSize": 4.8, "fontWeight": "bold", "dx": 4.5, "color": "#222"}, "encoding": {"x": {"field": "m", "type": "quantitative"}, "y": {"field": "r", "type": "ordinal"}, "text": {"field": "t"}}},
        {"data": {"name": "hdr"}, "transform": [{"filter": "datum.m >= 12"}], "mark": {"type": "text", "fontSize": 4.8, "fontWeight": "bold", "color": "#222"}, "encoding": {"x": {"field": "m", "type": "quantitative"}, "y": {"field": "r", "type": "ordinal"}, "text": {"field": "t"}}},
        {"data": {"name": "sero"}, "transform": [{"filter": "datum.p == 'C18' && datum.m == 6"}], "mark": {"type": "text", "fontSize": 4.8, "dx": 1.5}, "encoding": {"x": {"field": "m", "type": "quantitative"}, "y": {"field": "r", "type": "ordinal"}, "text": {"field": "t"}, "color": {"condition": {"test": "datum.r == 2", "value": "#9a9a9a"}, "value": "#222"}}},
        {"data": {"name": "sero"}, "transform": [{"filter": "datum.p == 'C18' && datum.m == 7"}], "mark": {"type": "text", "fontSize": 4.8, "dx": 4.5}, "encoding": {"x": {"field": "m", "type": "quantitative"}, "y": {"field": "r", "type": "ordinal"}, "text": {"field": "t"}, "color": {"condition": {"test": "datum.r == 2", "value": "#9a9a9a"}, "value": "#222"}}},
        {"data": {"name": "sero"}, "transform": [{"filter": "datum.p == 'C18' && datum.m >= 12"}], "mark": {"type": "text", "fontSize": 4.8}, "encoding": {"x": {"field": "m", "type": "quantitative"}, "y": {"field": "r", "type": "ordinal"}, "text": {"field": "t"}, "color": {"condition": {"test": "datum.r == 2", "value": "#9a9a9a"}, "value": "#222"}}}
       ]}
    ]}
  ]
 }]
}
]
}
